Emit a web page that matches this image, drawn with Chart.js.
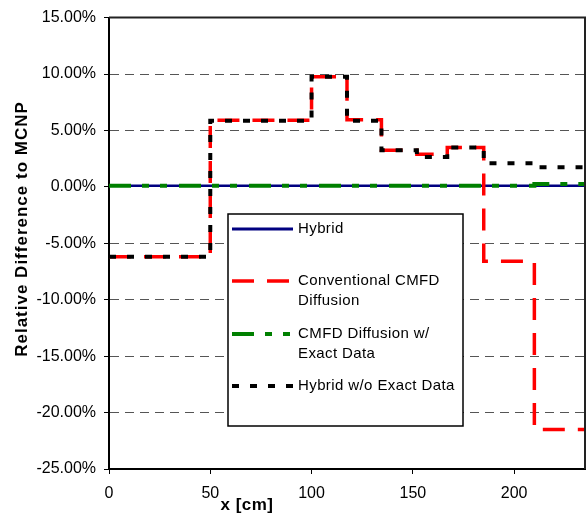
<!DOCTYPE html>
<html>
<head>
<meta charset="utf-8">
<script src="https://cdn.jsdelivr.net/npm/chart.js@4.4.1/dist/chart.umd.min.js"></script>
<style>
  html, body { margin: 0; padding: 0; background: #fff; }
</style>
</head>
<body>
<canvas id="chart" width="586" height="516"></canvas>
<script>
// step edges along x [cm]; each value holds from its edge to the next one
const stepEdges = [0, 50, 100, 117.5, 134.5, 152, 167, 185, 210, 235];

const hybrid = [0.1, 0.1, 0.1, 0.1, 0.1, 0.1, 0.1, 0.1, 0.1, 0.1];
const conventional = [-6.2, 5.9, 9.75, 5.95, 3.25, 2.9, 3.5, -6.6, -21.5, -21.5];
const exactData = [0.1, 0.1, 0.1, 0.1, 0.1, 0.1, 0.1, 0.1, 0.25, 0.25];
const hybridNoExact = [-6.2, 5.85, 9.75, 5.85, 3.25, 2.65, 3.5, 2.1, 1.75, 1.75];

const seriesLabels = [
  ["Hybrid"],
  ["Conventional CMFD", "Diffusion"],
  ["CMFD Diffusion w/", "Exact Data"],
  ["Hybrid w/o Exact Data"],
];

const xTicks = [0, 50, 100, 150, 200];
const yTicks = [-25, -20, -15, -10, -5, 0, 5, 10, 15];
const xTitle = "x [cm]";
const yTitle = "Relative Difference to MCNP";

const FONT = "'Liberation Sans', Arial, sans-serif";

function toPoints(values) {
  return stepEdges.map((x, i) => ({ x: x, y: values[i] }));
}

function makeSet(label, values, color, width, dash, order) {
  return {
    label: label,
    data: toPoints(values),
    borderColor: color,
    backgroundColor: color,
    borderWidth: width,
    borderDash: dash,
    stepped: "before",
    pointRadius: 0,
    fill: false,
    order: order,
  };
}

// legend rows: y of first text line
const legendRows = [229, 281, 334, 386];

const decor = {
  id: "decor",
  afterDraw(chart) {
    const ctx = chart.ctx;
    const a = chart.chartArea;
    ctx.save();

    // top and right edge of the plot frame
    ctx.strokeStyle = "#222";
    ctx.lineWidth = 2;
    ctx.beginPath();
    ctx.moveTo(a.left, a.top);
    ctx.lineTo(a.right, a.top);
    ctx.lineTo(a.right, a.bottom);
    ctx.stroke();

    // axis titles
    ctx.fillStyle = "#000";
    ctx.textAlign = "center";
    ctx.textBaseline = "middle";
    ctx.font = "bold 17px " + FONT;
    ctx.letterSpacing = "1px";
    ctx.save();
    ctx.translate(22, 229);
    ctx.rotate(-Math.PI / 2);
    ctx.fillText(yTitle, 0, 0);
    ctx.restore();
    ctx.letterSpacing = "0.5px";
    ctx.fillText(xTitle, 247, 505);

    // legend box
    ctx.fillStyle = "#fff";
    ctx.fillRect(228, 214, 235, 212);
    ctx.strokeStyle = "#000";
    ctx.lineWidth = 1.5;
    ctx.setLineDash([]);
    ctx.strokeRect(228, 214, 235, 212);

    ctx.textAlign = "left";
    ctx.font = "15px " + FONT;
    ctx.letterSpacing = "0.4px";
    chart.data.datasets.forEach((ds, i) => {
      const y = legendRows[i];
      ctx.strokeStyle = ds.borderColor;
      ctx.lineWidth = i === 0 ? 3 : ds.borderWidth;
      ctx.setLineDash(ds.borderDash || []);
      ctx.beginPath();
      ctx.moveTo(232, y);
      ctx.lineTo(293, y);
      ctx.stroke();
      ctx.fillStyle = "#000";
      seriesLabels[i].forEach((line, j) => {
        ctx.fillText(line, 298, y + j * 20);
      });
    });
    ctx.restore();
  },
};

new Chart(document.getElementById("chart"), {
  type: "line",
  data: {
    datasets: [
      makeSet(seriesLabels[0].join(" "), hybrid, "#000080", 2.5, [], 3),
      makeSet(seriesLabels[1].join(" "), conventional, "#ff0000", 3.5, [22, 13], 1),
      makeSet(seriesLabels[2].join(" "), exactData, "#008000", 4, [22, 11, 7, 11, 7, 12], 2),
      makeSet(seriesLabels[3].join(" "), hybridNoExact, "#000000", 4, [7, 11], 0),
    ],
  },
  options: {
    responsive: false,
    animation: false,
    devicePixelRatio: 1,
    layout: { padding: { top: 17, right: 1, left: 0, bottom: 0 } },
    plugins: {
      legend: { display: false },
      tooltip: { enabled: false },
    },
    scales: {
      x: {
        type: "linear",
        min: xTicks[0],
        max: stepEdges[stepEdges.length - 1],
        afterFit(s) { s.height = 47; },
        afterBuildTicks(s) { s.ticks = xTicks.map((v) => ({ value: v })); },
        ticks: {
          padding: 10,
          color: "#000",
          maxRotation: 0,
          font: { family: FONT, size: 16 },
        },
        grid: { drawOnChartArea: false, drawTicks: true, tickLength: 5, tickColor: "#000" },
        border: { color: "#000", width: 2 },
      },
      y: {
        min: yTicks[0],
        max: yTicks[yTicks.length - 1],
        afterFit(s) { s.width = 109; },
        afterBuildTicks(s) { s.ticks = yTicks.map((v) => ({ value: v })); },
        ticks: {
          padding: 8,
          color: "#000",
          font: { family: FONT, size: 16 },
          callback: (v) => v.toFixed(2) + "%",
        },
        grid: { color: "#555", lineWidth: 1, tickLength: 5, tickColor: "#000" },
        border: { color: "#000", width: 2, dash: [9, 6] },
      },
    },
  },
  plugins: [decor],
});
</script>
</body>
</html>
